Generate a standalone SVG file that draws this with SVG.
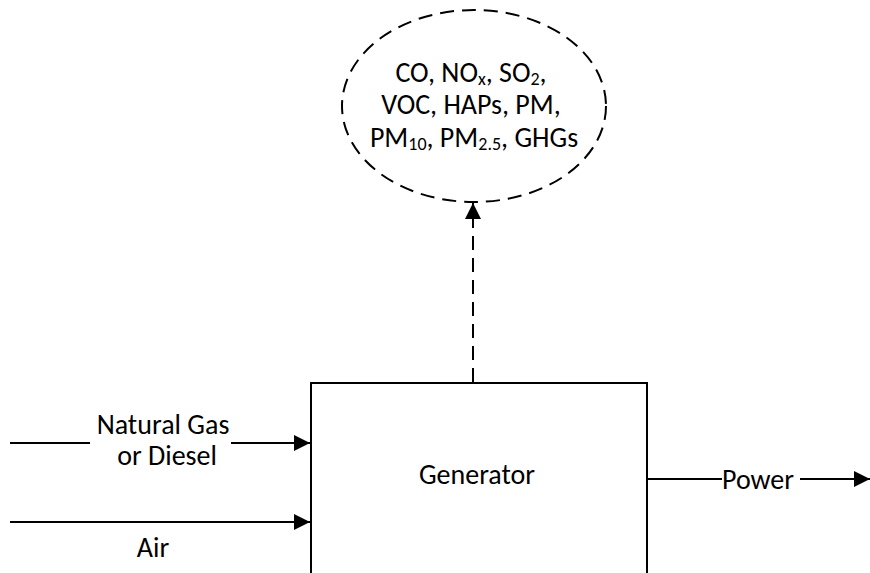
<svg xmlns="http://www.w3.org/2000/svg" width="870" height="573" viewBox="0 0 870 573">
<style>
  .t { font-family: Carlito, Lato, "Open Sans", sans-serif; font-size: 28px; fill: #000; }
  .m { text-anchor: middle; }
  .ln { stroke: #000; stroke-width: 2; fill: none; }
  .dash { stroke-dasharray: 14 8; }
  .sub { font-size: 18px; }
</style>
<defs>
  <marker id="arr" markerUnits="userSpaceOnUse" markerWidth="16" markerHeight="16" refX="16" refY="8" orient="auto">
    <path d="M0,0 L16,8 L0,16 Z" fill="#000"/>
  </marker>
</defs>
<rect width="870" height="573" fill="#fff"/>
<g id="emissions">
  <ellipse class="ln dash" cx="474" cy="106" rx="132" ry="96"/>
  <text class="t m" x="471" y="82">CO, NO<tspan class="sub" dy="3">x</tspan><tspan dy="-3">, SO</tspan><tspan class="sub" dy="3">2</tspan><tspan dy="-3">,</tspan></text>
  <text class="t m" x="471" y="114">VOC, HAPs, PM,</text>
  <text class="t m" x="474" y="147">PM<tspan class="sub" dy="3">10</tspan><tspan dy="-3">, PM</tspan><tspan class="sub" dy="3">2.5</tspan><tspan dy="-3">, GHGs</tspan></text>
</g>
<g id="generator">
  <rect class="ln" x="311" y="383" width="336" height="200" fill="#fff"/>
  <text class="t m" x="477" y="484">Generator</text>
</g>
<g id="connectors">
  <line class="ln dash" x1="473" y1="382" x2="473" y2="203" marker-end="url(#arr)"/>
  <line class="ln" x1="10" y1="443" x2="90" y2="443"/>
  <line class="ln" x1="231" y1="443" x2="310" y2="443" marker-end="url(#arr)"/>
  <line class="ln" x1="10" y1="522" x2="310" y2="522" marker-end="url(#arr)"/>
  <line class="ln" x1="648" y1="479" x2="722" y2="479"/>
  <line class="ln" x1="800" y1="479" x2="870" y2="479" marker-end="url(#arr)"/>
  <text class="t m" x="163" y="434">Natural Gas</text>
  <text class="t m" x="167" y="465">or Diesel</text>
  <text class="t m" x="153" y="557">Air</text>
  <text class="t m" x="758" y="489">Power</text>
</g>
</svg>
